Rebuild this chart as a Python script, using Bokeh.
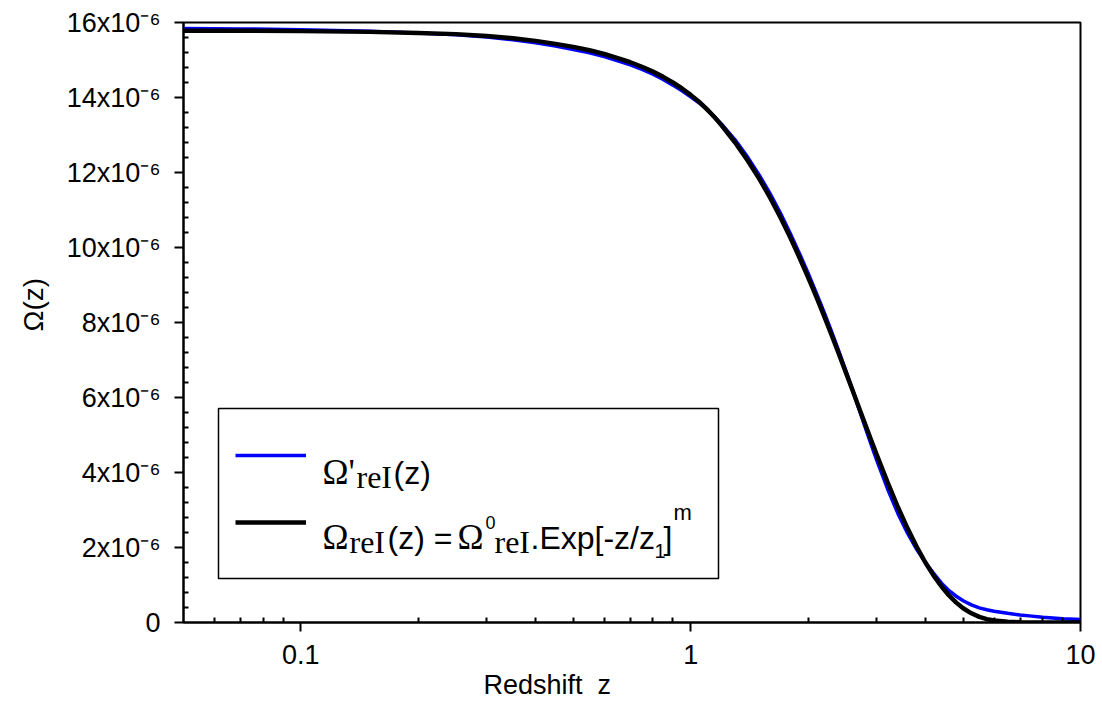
import math
from bokeh.plotting import figure
from bokeh.models import (Range1d, FixedTicker, Label, BoxAnnotation, Legend,
                          LegendItem, Title)
from bokeh.embed import file_html
from bokeh.resources import INLINE

# ---------------- data ----------------
z = [0.05, 0.07, 0.1, 0.15, 0.2, 0.25, 0.3, 0.35, 0.4, 0.45, 0.5, 0.55, 0.6,
     0.65, 0.7, 0.75, 0.8, 0.85, 0.9, 0.95, 1.0, 1.05, 1.1, 1.15, 1.2, 1.3,
     1.4, 1.5, 1.6, 1.7, 1.8, 1.9, 2.0, 2.1, 2.2, 2.3, 2.4, 2.5, 2.6, 2.7,
     2.8, 2.9, 3.0, 3.2, 3.4, 3.6, 3.8, 4.0, 4.2, 4.4, 4.6, 4.8, 5.0, 5.25,
     5.5, 5.75, 6.0, 6.5, 7.0, 7.5, 8.0, 9.0, 10.0]

# Omega'_reI(z)  (units of 1e-6)
omega_prime = [15.84, 15.83, 15.81, 15.77, 15.72, 15.67, 15.61, 15.54, 15.46,
               15.37, 15.28, 15.19, 15.09, 14.98, 14.87, 14.75, 14.62, 14.48,
               14.33, 14.18, 14.02, 13.86, 13.68, 13.49, 13.29, 12.87, 12.41,
               11.93, 11.43, 10.91, 10.38, 9.85, 9.32, 8.79, 8.27, 7.75, 7.23,
               6.72, 6.21, 5.71, 5.22, 4.76, 4.33, 3.56, 2.91, 2.38, 1.95,
               1.60, 1.31, 1.05, 0.85, 0.70, 0.58, 0.47, 0.39, 0.34, 0.30,
               0.245, 0.20, 0.17, 0.14, 0.10, 0.08]

# Omega_reI(z) = Omega0_reI . Exp[-z/z1]^m  (units of 1e-6)
omega_fit = [15.78, 15.78, 15.77, 15.75, 15.72, 15.69, 15.64, 15.58, 15.51,
             15.43, 15.35, 15.26, 15.16, 15.05, 14.94, 14.82, 14.69, 14.55,
             14.40, 14.24, 14.07, 13.89, 13.69, 13.48, 13.26, 12.80, 12.32,
             11.83, 11.32, 10.80, 10.27, 9.74, 9.21, 8.69, 8.17, 7.66, 7.16,
             6.67, 6.20, 5.74, 5.30, 4.88, 4.48, 3.74, 3.08, 2.51, 2.02,
             1.60, 1.25, 0.96, 0.72, 0.53, 0.38, 0.245, 0.15, 0.09, 0.055,
             0.02, 0.007, 0.002, 0.0, 0.0, 0.0]

x_ticks = [0.1, 1, 10]
x_tick_labels = ["0.1", "1", "10"]
x_minor_ticks = [0.06, 0.07, 0.08, 0.09, 0.2, 0.3, 0.4, 0.5, 0.6, 0.7, 0.8,
                 0.9, 2, 3, 4, 5, 6, 7, 8, 9]
y_ticks = [0, 2, 4, 6, 8, 10, 12, 14, 16]
y_tick_labels = ["0", "2x10\u207b\u2076", "4x10\u207b\u2076", "6x10\u207b\u2076",
                 "8x10\u207b\u2076", "10x10\u207b\u2076", "12x10\u207b\u2076",
                 "14x10\u207b\u2076", "16x10\u207b\u2076"]
y_minor_ticks = [round(k * 0.4, 1) for k in range(41) if k % 5 != 0]

# ---------------- figure ----------------
SANS = "Liberation Sans"
SERIF = "Liberation Serif"

FL, FT, FW, FH = 183, 22, 897, 600   # frame geometry inside the canvas
X0, X1, Y0, Y1 = 0.05, 10.0, 0.0, 16.0

p = figure(width=1100, height=706, frame_width=FW, frame_height=FH,
           x_axis_type="log", x_range=Range1d(X0, X1), y_range=Range1d(Y0, Y1),
           output_backend="svg", toolbar_location=None,
           min_border_left=FL, min_border_right=20, min_border_top=FT,
           min_border_bottom=84)

p.xgrid.visible = False
p.ygrid.visible = False
p.outline_line_color = "black"
p.outline_line_width = 2
p.outline_line_alpha = 1
p.background_fill_color = "white"
p.border_fill_color = "white"

for ax in (p.xaxis[0], p.yaxis[0]):
    ax.axis_line_color = "black"
    ax.axis_line_width = 2
    ax.major_tick_line_color = "black"
    ax.minor_tick_line_color = "black"
    ax.major_tick_line_width = 2
    ax.minor_tick_line_width = 2
    ax.major_tick_in = 0
    ax.major_tick_out = 9
    ax.minor_tick_in = 5
    ax.minor_tick_out = 0
    ax.major_label_text_font = SANS
    ax.major_label_text_font_size = "27px"
    ax.major_label_text_color = "black"

xa = p.xaxis[0]
xa.ticker = FixedTicker(ticks=x_ticks, minor_ticks=x_minor_ticks)
xa.major_label_overrides = dict(zip(x_ticks, x_tick_labels))
xa.major_label_standoff = 13

ya = p.yaxis[0]
ya.ticker = FixedTicker(ticks=y_ticks, minor_ticks=y_minor_ticks)
ya.major_label_overrides = dict(zip(y_ticks, y_tick_labels))
ya.major_label_standoff = 14

# axis titles (placed as side titles so that they can be offset like the original)
yt = Title(text="\u03a9(z)", align="left", offset=291, text_font=SANS,
           text_font_size="28px", text_font_style="normal", text_color="black",
           standoff=30)
p.add_layout(yt, "left")

xt = Title(text="Redshift \u00a0z", align="left", offset=300, text_font=SANS,
           text_font_size="27px", text_font_style="normal", text_color="black",
           standoff=2)
p.add_layout(xt, "below")

# ---------------- curves ----------------
r_blue = p.line(z, omega_prime, line_color="#0000ff", line_width=3.5)
r_black = p.line(z, omega_fit, line_color="black", line_width=4.5)

# ---------------- legend ----------------
def zx(px):
    """canvas pixel x -> data x (log axis)"""
    return 10 ** (math.log10(X0) + (px - FL) / FW * math.log10(X1 / X0))

def vy(py):
    """canvas pixel y -> data y"""
    return Y1 - (py - FT) / FH * (Y1 - Y0)

box = BoxAnnotation(left=zx(218), right=zx(718), top=vy(408), bottom=vy(578),
                    fill_alpha=0, line_color="black", line_width=1.5,
                    line_alpha=1, line_dash="solid")
p.add_layout(box)

legend = Legend(items=[LegendItem(label=" ", renderers=[r_blue]),
                       LegendItem(label=" ", renderers=[r_black])],
                location=(52, 90), orientation="vertical", padding=0, margin=0,
                spacing=47, glyph_width=71, glyph_height=20, label_height=20,
                label_width=0, label_standoff=0, border_line_alpha=0,
                background_fill_alpha=0, label_text_font_size="1px")
p.add_layout(legend)

def put(text, px, py, font, size):
    p.add_layout(Label(x=zx(px), y=vy(py), text=text, text_font=font,
                       text_font_size=size, text_color="black",
                       text_align="left", text_baseline="alphabetic"))

# line 1 :  Ω'reI(z)
put("\u03a9'", 322, 472, SERIF, "35px")
put("reI", 356, 476, SERIF, "32px")
put("(z)", 393, 472, SANS, "32px")
# line 2 :  ΩreI(z) = Ω0reI.Exp[-z/z1]m
put("\u03a9", 322, 537, SERIF, "35px")
put("reI", 349, 541, SERIF, "32px")
put("(z) =", 387, 537, SANS, "32px")
put("\u03a9", 457, 537, SERIF, "35px")
put("0", 485, 522, SANS, "18px")
put("reI", 494, 541, SERIF, "32px")
put(".Exp[-z/z", 530, 537, SANS, "32px")
put("1", 654, 550, SANS, "20px")
put("]", 663, 537, SANS, "32px")
put("m", 673, 512, SANS, "22px")

open("out.html", "w").write(file_html(p, INLINE))
